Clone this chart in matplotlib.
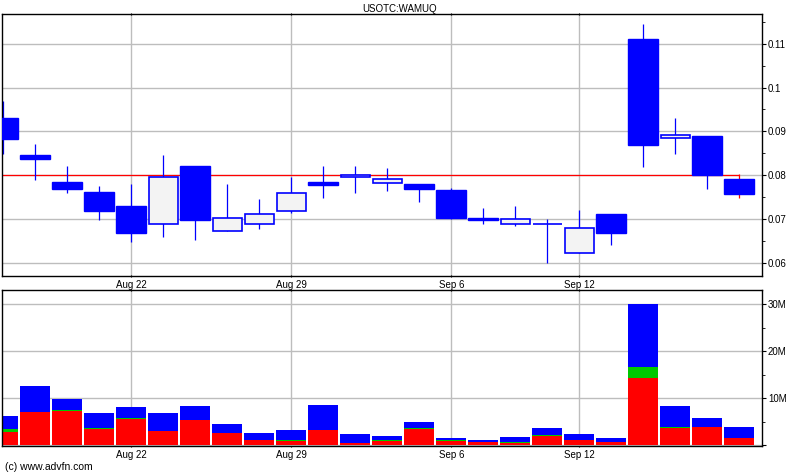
import numpy as np
import matplotlib

matplotlib.use("Agg")
import matplotlib.pyplot as plt
from matplotlib.ticker import MultipleLocator, FuncFormatter

# ── data (daily candles) ──
dates = ["Aug 16", "Aug 17", "Aug 18", "Aug 19", "Aug 22", "Aug 23", "Aug 24", "Aug 25",
         "Aug 26", "Aug 29", "Aug 30", "Aug 31", "Sep 1", "Sep 2", "Sep 6", "Sep 7",
         "Sep 8", "Sep 9", "Sep 12", "Sep 13", "Sep 14", "Sep 15", "Sep 16", "Sep 19"]
opens = [0.0931, 0.0846, 0.0785, 0.0762, 0.0730, 0.0690, 0.0821, 0.0674,
         0.0690, 0.0719, 0.0785, 0.0795, 0.0782, 0.0780, 0.0766, 0.0702,
         0.0690, 0.0690, 0.0624, 0.0712, 0.1111, 0.0884, 0.0890, 0.0791]
highs = [0.0969, 0.0871, 0.0821, 0.0776, 0.0781, 0.0846, 0.0821, 0.0781,
         0.0746, 0.0796, 0.0821, 0.0821, 0.0816, 0.0780, 0.0770, 0.0725,
         0.0730, 0.0700, 0.0721, 0.0712, 0.1145, 0.0931, 0.0890, 0.0804]
lows = [0.0849, 0.0790, 0.0760, 0.0699, 0.0649, 0.0660, 0.0653, 0.0674,
        0.0678, 0.0713, 0.0749, 0.0759, 0.0765, 0.0740, 0.0700, 0.0690,
        0.0685, 0.0599, 0.0624, 0.0640, 0.0820, 0.0849, 0.0769, 0.0749]
closes = [0.0883, 0.0837, 0.0769, 0.0719, 0.0669, 0.0795, 0.0699, 0.0702,
          0.0711, 0.0760, 0.0779, 0.0800, 0.0791, 0.0769, 0.0703, 0.0699,
          0.0700, 0.0690, 0.0679, 0.0669, 0.0870, 0.0891, 0.0800, 0.0758]
ref_price = 0.08

# volume, in millions, split in three stacked layers
vol_red = [2.84, 7.09, 7.30, 3.48, 5.67, 3.12, 5.39, 2.70, 1.06, 0.85, 3.26, 0.57,
           0.85, 3.55, 0.85, 0.64, 0.57, 2.06, 1.06, 0.78, 14.33, 3.76, 3.97, 1.56]
vol_green = [0.71, 0.0, 0.20, 0.20, 0.20, 0.0, 0.0, 0.0, 0.15, 0.20, 0.0, 0.0,
             0.20, 0.20, 0.20, 0.14, 0.14, 0.14, 0.14, 0.0, 2.41, 0.20, 0.0, 0.0]
vol_blue = [2.69, 5.61, 2.43, 3.27, 2.29, 3.83, 2.98, 1.91, 1.49, 2.21, 5.39, 1.91,
            1.01, 1.29, 0.51, 0.35, 1.06, 1.49, 1.21, 0.78, 13.33, 4.41, 1.85, 2.34]

tick_dates = ["Aug 22", "Aug 29", "Sep 6", "Sep 12"]
title = "USOTC:WAMUQ"
credit = "(c) www.advfn.com"

BLUE = "#0000ff"
RED = "#ff0000"
GREEN = "#00c800"
GRID = "#bdbdbd"

plt.rcParams["font.family"] = ["Liberation Sans", "DejaVu Sans"]
plt.rcParams["font.size"] = 7

x = np.arange(len(dates))
opens = np.array(opens)
closes = np.array(closes)
tick_pos = [dates.index(d) for d in tick_dates]
xlim = (-0.03, 23.72)

fig = plt.figure(figsize=(8, 4.75), dpi=100)
ax = fig.add_axes([0.0029, 0.4189, 0.95, 0.551])
axv = fig.add_axes([0.0029, 0.0611, 0.95, 0.3284])

# ── price panel ──
up = closes >= opens
wick_colors = [BLUE] * len(x)
wick_colors[-1] = RED
ax.vlines(x, lows, highs, colors=wick_colors, lw=0.9, zorder=2)
body_lo = np.minimum(opens, closes)
body_h = np.abs(closes - opens)
ax.bar(x[~up], body_h[~up], bottom=body_lo[~up], width=0.93,
       color=BLUE, edgecolor=BLUE, lw=1, zorder=3)
ax.bar(x[up], body_h[up], bottom=body_lo[up], width=0.91,
       facecolor="#f3f3f3", edgecolor=BLUE, lw=1.2, zorder=3)
ax.hlines(ref_price, xlim[0], x[-1], colors=RED, lw=0.9, zorder=1.5)

ax.set_xlim(*xlim)
ax.set_ylim(0.05704, 0.1167)
ax.yaxis.set_major_locator(MultipleLocator(0.01))
ax.yaxis.set_minor_locator(MultipleLocator(0.005))
ax.yaxis.set_major_formatter(FuncFormatter(lambda v, p: f"{v:g}"))
ax.set_xticks(tick_pos)
ax.set_xticklabels(tick_dates)
ax.grid(True, color=GRID, lw=1, zorder=0)
ax.set_axisbelow(True)

# ── volume panel ──
vol_red = np.array(vol_red)
vol_green = np.array(vol_green)
vol_blue = np.array(vol_blue)
axv.bar(x, vol_red, width=0.94, color=RED, zorder=2)
axv.bar(x, vol_green, bottom=vol_red, width=0.94, color=GREEN, zorder=2)
axv.bar(x, vol_blue, bottom=vol_red + vol_green, width=0.94, color=BLUE, zorder=2)
axv.set_xlim(*xlim)
axv.set_ylim(-0.15, 33.04)
axv.yaxis.set_major_locator(MultipleLocator(10))
axv.yaxis.set_minor_locator(MultipleLocator(5))
axv.yaxis.set_major_formatter(FuncFormatter(lambda v, p: f"{v:.0f}M" if v > 0 else ""))
axv.set_xticks(tick_pos)
axv.set_xticklabels(tick_dates)
axv.grid(True, color=GRID, lw=1, zorder=0)
axv.set_axisbelow(True)

for a in (ax, axv):
    a.tick_params(axis="y", which="both", left=False, right=True,
                  labelleft=False, labelright=True, direction="out", pad=1)
    a.tick_params(axis="y", which="major", length=3)
    a.tick_params(axis="y", which="minor", length=2)
    a.tick_params(axis="x", length=2, pad=2, top=True, direction="inout")
    for s in a.spines.values():
        s.set_color("black")
        s.set_linewidth(1)

fig.text(0.5, 1 - 9 / 475, title, ha="center", va="center", fontsize=7)
fig.text(0.006, 1 - 467.5 / 475, credit, ha="left", va="center", fontsize=7.5)

fig.savefig("out.png", dpi=100)
